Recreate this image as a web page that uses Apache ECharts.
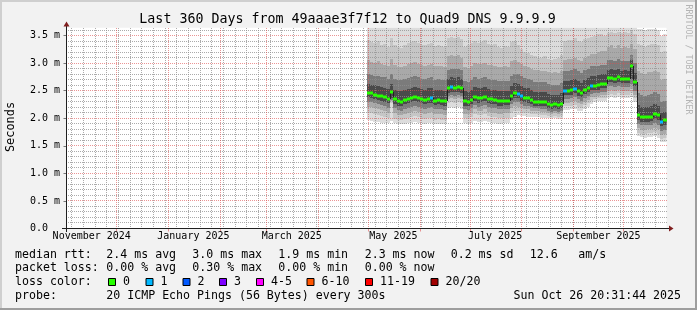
<!DOCTYPE html>
<html><head><meta charset="utf-8">
<script src="https://cdn.jsdelivr.net/npm/echarts@6/dist/echarts.min.js"></script>
<style>html,body{margin:0;padding:0;background:#f2f2f2}#c{width:697px;height:310px}</style>
</head><body><div id="c"></div>
<script>
// ---------- data ----------
const DAY = 86400000;
const startTime = Date.UTC(2024, 9, 31, 20, 31, 44);
const endTime = Date.UTC(2025, 9, 26, 20, 31, 44);
const firstStep = Date.UTC(2025, 3, 30);
const stepDays = 2;

const median = [2.46,2.45,2.43,2.41,2.40,2.38,2.35,2.47,2.34,2.31,
2.30,2.33,2.35,2.37,2.39,2.37,2.35,2.33,2.35,2.36,
2.32,2.33,2.32,2.31,2.54,2.56,2.55,2.56,2.54,2.31,
2.30,2.33,2.39,2.36,2.37,2.39,2.35,2.34,2.33,2.31,
2.31,2.32,2.32,2.41,2.45,2.44,2.40,2.37,2.36,2.33,
2.30,2.30,2.29,2.29,2.26,2.24,2.25,2.24,2.26,2.50,
2.50,2.51,2.53,2.49,2.45,2.52,2.55,2.59,2.59,2.60,
2.62,2.62,2.73,2.73,2.72,2.74,2.71,2.72,2.71,2.95,
2.66,2.05,2.02,2.02,2.02,2.03,2.08,2.05,1.93,1.96];

const loss = [0,0,0,0,0,0,0,0,0,0, 0,0,0,0,0,0,0,0,0,1, 0,0,0,0,0,1,0,0,0,0,
0,0,0,0,0,0,0,0,0,0, 0,0,0,0,0,1,1,0,0,0, 0,0,0,0,0,0,0,0,0,1,
0,0,1,0,0,0,0,1,0,0, 0,0,0,0,0,0,0,0,0,0, 0,0,0,0,0,0,0,0,1,0];

const hi1 = [3.70,3.70,3.70,3.70,3.70,3.70,3.70,3.70,3.70,3.70,3.70,3.70,3.70,3.70,3.70,3.70,3.70,3.70,3.70,3.70,3.70,3.70,3.70,3.70,
3.70,3.70,3.70,3.70,3.70,
3.70,3.70,3.70,3.70,3.70,3.70,3.70,3.70,3.70,3.70,3.70,3.70,3.70,3.70,3.70,3.70,3.70,3.70,3.70,3.70,3.70,3.70,3.70,3.70,3.70,3.70,3.70,3.70,3.70,3.70,
3.70,3.70,3.70,3.70,3.70,3.70,3.70,3.70,3.70,3.70,3.70,3.70,3.70,
3.70,3.70,3.70,3.70,3.70,3.70,3.70,3.70,3.70,
3.62,3.62,3.60,3.62,3.62,3.62,3.60,3.50,3.52];
const hi2 = [3.42,3.38,3.36,3.40,3.33,3.35,3.30,3.45,3.33,3.30,3.28,3.32,3.36,3.38,3.40,3.36,3.33,3.32,3.35,3.37,3.31,3.33,3.31,3.30,
3.45,3.48,3.46,3.47,3.44,
3.30,3.32,3.36,3.40,3.36,3.38,3.42,3.35,3.33,3.34,3.30,3.28,3.31,3.30,3.38,3.40,3.32,3.25,3.20,3.18,3.15,3.12,3.10,3.10,3.12,3.08,3.06,3.08,3.10,3.15,
3.40,3.42,3.42,3.45,3.40,3.38,3.44,3.46,3.48,3.50,3.52,3.52,3.50,
3.55,3.56,3.54,3.57,3.55,3.56,3.54,3.58,3.52,
3.35,3.32,3.30,3.33,3.34,3.35,3.32,3.20,3.22];
const hi3 = [3.05,3.02,3.00,3.03,2.98,2.97,2.95,3.08,2.96,2.93,2.92,2.95,2.98,3.00,3.02,2.99,2.96,2.95,2.97,2.99,2.94,2.95,2.94,2.93,
3.12,3.15,3.13,3.14,3.10,
2.92,2.91,2.95,3.01,2.98,2.99,3.01,2.97,2.96,2.95,2.93,2.92,2.94,2.93,3.03,3.05,3.02,2.98,2.95,2.93,2.90,2.88,2.87,2.86,2.86,2.84,2.82,2.83,2.82,2.86,
3.05,3.07,3.08,3.10,3.06,3.04,3.10,3.12,3.16,3.17,3.20,3.22,3.22,
3.30,3.32,3.28,3.33,3.28,3.30,3.28,3.35,3.25,
2.85,2.82,2.80,2.83,2.84,2.86,2.84,2.70,2.72];
const hi4 = [2.80,2.78,2.77,2.76,2.75,2.74,2.72,2.80,2.72,2.70,2.69,2.71,2.73,2.74,2.76,2.74,2.72,2.71,2.73,2.74,2.70,2.71,2.70,2.70,
2.88,2.90,2.89,2.90,2.88,
2.67,2.66,2.69,2.75,2.72,2.73,2.75,2.71,2.70,2.69,2.67,2.67,2.68,2.68,2.77,2.81,2.80,2.76,2.73,2.72,2.69,2.66,2.66,2.65,2.65,2.62,2.60,2.61,2.60,2.63,
2.85,2.86,2.87,2.89,2.85,2.82,2.88,2.90,2.94,2.94,2.95,2.97,2.97,
3.05,3.06,3.04,3.07,3.03,3.04,3.03,3.15,3.00,
2.45,2.42,2.41,2.43,2.44,2.47,2.44,2.30,2.32];
const hi5 = [2.62,2.60,2.60,2.58,2.57,2.55,2.53,2.62,2.52,2.50,2.49,2.52,2.53,2.55,2.57,2.55,2.53,2.52,2.54,2.55,2.51,2.52,2.51,2.50,
2.72,2.74,2.73,2.74,2.72,
2.49,2.48,2.51,2.57,2.54,2.55,2.57,2.53,2.52,2.51,2.49,2.49,2.50,2.50,2.59,2.63,2.62,2.58,2.55,2.54,2.51,2.48,2.48,2.47,2.47,2.44,2.42,2.43,2.42,2.45,
2.68,2.68,2.69,2.71,2.67,2.64,2.70,2.73,2.77,2.77,2.78,2.80,2.80,
2.88,2.89,2.87,2.89,2.86,2.87,2.86,3.05,2.82,
2.24,2.21,2.20,2.21,2.22,2.26,2.23,2.10,2.12];
const lo5 = [2.38,2.37,2.35,2.33,2.32,2.30,2.27,2.36,2.26,2.23,2.22,2.25,2.27,2.29,2.31,2.29,2.27,2.25,2.27,2.28,2.24,2.25,2.24,2.23,
2.46,2.48,2.47,2.48,2.46,
2.23,2.22,2.25,2.31,2.28,2.29,2.31,2.27,2.26,2.25,2.23,2.23,2.24,2.24,2.33,2.37,2.36,2.32,2.29,2.28,2.26,2.23,2.23,2.22,2.22,2.19,2.17,2.18,2.17,2.19,
2.42,2.42,2.43,2.45,2.41,2.38,2.44,2.47,2.51,2.51,2.52,2.54,2.54,
2.65,2.65,2.64,2.66,2.63,2.64,2.63,2.72,2.58,
1.97,1.94,1.94,1.94,1.95,1.99,1.96,1.85,1.87];
const lo4 = [2.30,2.29,2.27,2.25,2.24,2.22,2.19,2.33,2.18,2.15,2.14,2.17,2.19,2.21,2.23,2.21,2.19,2.17,2.19,2.20,2.16,2.17,2.16,2.15,
2.40,2.42,2.41,2.42,2.40,
2.16,2.15,2.18,2.24,2.21,2.22,2.24,2.20,2.19,2.18,2.16,2.16,2.17,2.17,2.26,2.30,2.29,2.26,2.23,2.22,2.20,2.18,2.18,2.17,2.17,2.14,2.12,2.13,2.12,2.14,
2.35,2.35,2.36,2.38,2.34,2.31,2.37,2.40,2.44,2.45,2.46,2.48,2.48,
2.58,2.58,2.57,2.59,2.56,2.57,2.56,2.62,2.50,
1.90,1.87,1.87,1.87,1.88,1.91,1.88,1.77,1.79];
const lo3 = [2.21,2.20,2.18,2.16,2.15,2.13,2.10,2.31,2.09,2.06,2.05,2.08,2.10,2.12,2.14,2.12,2.10,2.08,2.10,2.11,2.07,2.08,2.07,2.06,
2.34,2.36,2.35,2.36,2.34,
2.08,2.07,2.10,2.16,2.13,2.14,2.16,2.12,2.11,2.10,2.08,2.08,2.09,2.09,2.18,2.22,2.21,2.19,2.17,2.16,2.14,2.13,2.13,2.12,2.12,2.09,2.08,2.09,2.08,2.09,
2.28,2.28,2.29,2.31,2.27,2.25,2.30,2.33,2.38,2.39,2.41,2.42,2.42,
2.50,2.51,2.50,2.52,2.49,2.50,2.49,2.53,2.43,
1.82,1.79,1.79,1.80,1.80,1.83,1.80,1.69,1.71];
const lo2 = [2.10,2.09,2.07,2.05,2.04,2.02,2.00,2.28,1.99,1.97,1.96,1.98,2.00,2.02,2.04,2.02,2.00,1.98,2.00,2.01,1.97,1.98,1.97,1.96,
2.27,2.29,2.28,2.29,2.27,
2.00,1.99,2.02,2.07,2.05,2.06,2.07,2.04,2.03,2.02,2.00,2.00,2.01,2.01,2.10,2.13,2.13,2.11,2.10,2.09,2.08,2.07,2.07,2.06,2.06,2.04,2.03,2.04,2.03,2.04,
2.22,2.22,2.23,2.24,2.21,2.19,2.24,2.27,2.32,2.34,2.36,2.37,2.37,
2.43,2.44,2.43,2.45,2.42,2.43,2.42,2.45,2.37,
1.74,1.72,1.72,1.73,1.73,1.75,1.72,1.62,1.64];
const lo1 = [1.96,1.95,1.94,1.93,1.92,1.92,1.91,1.95,1.91,1.90,1.89,1.90,1.91,1.92,1.93,1.92,1.91,1.90,1.91,1.92,1.90,1.90,1.89,1.89,
2.18,2.20,2.19,2.20,2.17,
1.91,1.90,1.92,1.95,1.93,1.94,1.95,1.93,1.92,1.91,1.90,1.90,1.91,1.92,1.98,2.02,2.05,2.04,2.04,2.03,2.03,2.02,2.02,2.01,2.01,2.00,1.99,2.00,1.99,2.00,
2.15,2.15,2.16,2.17,2.14,2.13,2.17,2.20,2.26,2.29,2.31,2.32,2.32,
2.37,2.38,2.37,2.38,2.36,2.37,2.36,2.38,2.30,
1.67,1.66,1.65,1.66,1.66,1.67,1.64,1.56,1.57];

const monthLabelTimes = [Date.UTC(2024,10,16), Date.UTC(2025,0,16), Date.UTC(2025,2,16), Date.UTC(2025,4,16), Date.UTC(2025,6,16), Date.UTC(2025,8,16)];
const monthLabelTexts = ['November 2024','January 2025','March 2025','May 2025','July 2025','September 2025'];
const monthStarts = [Date.UTC(2024,11,1),Date.UTC(2025,0,1),Date.UTC(2025,1,1),Date.UTC(2025,2,1),Date.UTC(2025,3,1),Date.UTC(2025,4,1),Date.UTC(2025,5,1),Date.UTC(2025,6,1),Date.UTC(2025,7,1),Date.UTC(2025,8,1),Date.UTC(2025,9,1)];
const yMax = 3.64;

const lossColors = ['#26ff00','#00b8ff','#0059ff','#7e00ff','#ff00ff','#ff5500','#ff0000','#a10000'];
const lossLabels = ['0','1','2','3','4-5','6-10','11-19','20/20'];
const smokeColors = ['#dcdcdc','#c6c6c6','#a9a9a9','#7b7b7b','#4a4a4a'];

// ---------- derived ----------
const weekStarts = [];
for (let t = Date.UTC(2024,10,4); t < endTime; t += 7*DAY) weekStarts.push(t);
// grid rows: [time, value, isMajor, isHorizontal]
const gridRows = [];
for (let k = 1; k <= 36; k++) if (k % 5) gridRows.push([startTime, k/10, 0, 1]);
weekStarts.forEach(t => gridRows.push([t, 0, 0, 0]));
for (let k = 1; k <= 7; k++) gridRows.push([startTime, k/2, 1, 1]);
monthStarts.forEach(t => gridRows.push([t, 0, 1, 0]));

const stepT = i => firstStep + i*stepDays*DAY;
const los = [lo1,lo2,lo3,lo4,lo5], his = [hi1,hi2,hi3,hi4,hi5];
const smokeData = median.map((m,i) => {
  const row = [stepT(i), Math.min(stepT(i+1), endTime)];
  for (let k=0;k<5;k++){ row.push(los[k][i], his[k][i]); }
  return row;
});
const medData = median.map((m,i) => [stepT(i), Math.min(stepT(i+1), endTime), m, loss[i], i>0 ? median[i-1] : m]);
function lossIdx(l){ if(l<=3) return l; if(l<=5) return 4; if(l<=10) return 5; if(l<=19) return 6; return 7; }

const MONO = '"DejaVu Sans Mono", monospace';
const GRID = 'rgba(143,143,143,0.75)';
const MGRID = 'rgba(222,79,79,0.6)';

const chart = echarts.init(document.getElementById('c'), null, {renderer:'canvas', width:697, height:310});

const legendRows = [
  {y:254.5, items:[[15,'median rtt:'],[106.3,'2.4 ms avg'],[192.3,'3.0 ms max'],[278.3,'1.9 ms min'],[364.7,'2.3 ms now'],[450.7,'0.2 ms sd'],[529.7,'12.6'],[578.3,'am/s']]},
  {y:268.3, items:[[15,'packet loss:'],[106.3,'0.00 % avg'],[192.3,'0.30 % max'],[278.3,'0.00 % min'],[364.7,'0.00 % now']]},
  {y:282, items:[[15,'loss color:']]},
  {y:295.8, items:[[15,'probe:'],[106.3,'20 ICMP Echo Pings (56 Bytes) every 300s']]}
];
const boxX = [108, 145.5, 182.5, 219, 256, 306.5, 365, 430.5];

const graphics = [];
graphics.push({type:'rect', shape:{x:0,y:0,width:697,height:2}, style:{fill:'#cfcfcf'}, silent:true});
graphics.push({type:'rect', shape:{x:0,y:0,width:2,height:310}, style:{fill:'#cfcfcf'}, silent:true});
graphics.push({type:'rect', shape:{x:0,y:308,width:697,height:2}, style:{fill:'#9e9e9e'}, silent:true});
graphics.push({type:'rect', shape:{x:695,y:0,width:2,height:310}, style:{fill:'#9e9e9e'}, silent:true});
graphics.push({type:'text', x:347.5, y:19.5, silent:true, style:{text:'Last 360 Days from 49aaae3f7f12 to Quad9 DNS 9.9.9.9', fill:'#000', font:'13.3px '+MONO, align:'center', verticalAlign:'middle'}});
graphics.push({type:'text', x:688.3, y:59.5, rotation:-Math.PI/2, silent:true, style:{text:'RRDTOOL / TOBI OETIKER', fill:'#b4b4b4', font:'8.3px '+MONO, align:'center', verticalAlign:'middle'}});
graphics.push({type:'text', x:11.2, y:127, rotation:Math.PI/2, silent:true, style:{text:'Seconds', fill:'#000', font:'11.9px '+MONO, align:'center', verticalAlign:'middle'}});
graphics.push({type:'line', shape:{x1:62,y1:228.5,x2:670,y2:228.5}, style:{stroke:'#1f1f1f', lineWidth:1}, silent:true, z:10});
graphics.push({type:'line', shape:{x1:66.5,y1:232,x2:66.5,y2:25}, style:{stroke:'#1f1f1f', lineWidth:1}, silent:true, z:10});
graphics.push({type:'polygon', shape:{points:[[673.5,228.5],[669,225.5],[669,231.5]]}, style:{fill:'#801f1f'}, silent:true, z:10});
graphics.push({type:'polygon', shape:{points:[[66.5,21.5],[63.5,26.5],[69.5,26.5]]}, style:{fill:'#801f1f'}, silent:true, z:10});
legendRows.forEach(r => r.items.forEach(([x,t]) => graphics.push({type:'text', x, y:r.y, silent:true, style:{text:t, fill:'#000', font:'11.6px '+MONO, align:'left', verticalAlign:'middle'}})));
boxX.forEach((x,k) => {
  graphics.push({type:'rect', shape:{x:x+0.5,y:278.5,width:7,height:7}, style:{fill:lossColors[k], stroke:'#000', lineWidth:1}, silent:true});
  graphics.push({type:'text', x:x+15, y:282, silent:true, style:{text:lossLabels[k], fill:'#000', font:'11.6px '+MONO, align:'left', verticalAlign:'middle'}});
});
graphics.push({type:'text', x:681, y:295.8, silent:true, style:{text:'Sun Oct 26 20:31:44 2025', fill:'#000', font:'11.6px '+MONO, align:'right', verticalAlign:'middle'}});

const option = {
  animation: false,
  backgroundColor: '#f2f2f2',
  grid: {left:66.5, right:30.5, top:27.8, bottom:81.5, show:true, backgroundColor:'#ffffff', borderWidth:0},
  xAxis: [{
    type:'value', min:startTime, max:endTime,
    axisLine:{show:false},
    axisTick:{show:true, customValues: monthStarts, length:3, lineStyle:{color:MGRID}},
    axisLabel:{show:true, customValues: monthLabelTimes, margin:3, color:'#000', fontSize:10, fontFamily:MONO,
      formatter: v => { const k = monthLabelTimes.indexOf(v); return k>=0 ? monthLabelTexts[k] : ''; }},
    splitLine:{show:false}
  }],
  yAxis: [{
    type:'value', min:0, max:yMax, interval:0.5,
    axisLine:{show:false},
    axisTick:{show:true, length:3, lineStyle:{color:'#777'}},
    axisLabel:{showMaxLabel:false, align:'left', margin:36.5, color:'#000', fontSize:10, fontFamily:MONO,
      formatter: v => v===0 ? '0.0' : v.toFixed(1)+' m'},
    splitLine:{show:false}
  }],
  graphic: graphics,
  series: [
    {
      type:'custom', name:'smoke', z:2, silent:true,
      data: smokeData,
      encode:{x:[0,1], y:[2,3,4,5,6,7,8,9,10,11]},
      renderItem: (params, api) => {
        const cs = params.coordSys;
        const t0 = api.value(0), t1 = api.value(1);
        const children = [];
        for (let k=0;k<5;k++){
          const lo = api.value(2+2*k), hi = api.value(3+2*k);
          const p0 = api.coord([t0, hi]), p1 = api.coord([t1, lo]);
          const x0 = Math.round(p0[0]), x1 = Math.round(p1[0]);
          const y0 = Math.round(p0[1]), y1 = Math.round(p1[1]);
          const shape = echarts.graphic.clipRectByRect({x:x0,y:y0,width:x1-x0,height:y1-y0},{x:cs.x,y:cs.y,width:cs.width,height:cs.height});
          if (shape) children.push({type:'rect', shape, style:{fill:smokeColors[k]}});
        }
        return {type:'group', children};
      }
    },
    {
      type:'custom', name:'grid', z:3, silent:true,
      data: gridRows,
      encode:{x:0, y:1},
      renderItem: (params, api) => {
        const cs = params.coordSys;
        const p = api.coord([api.value(0), api.value(1)]);
        const style = {stroke: api.value(2) ? MGRID : GRID, lineWidth:1, lineDash:[1,1]};
        if (api.value(3)) {
          const y = Math.floor(p[1]) + 0.5;
          return {type:'line', shape:{x1:Math.round(cs.x)+1, y1:y, x2:Math.round(cs.x+cs.width)+1, y2:y}, style};
        }
        const x = Math.floor(p[0]) + 0.5;
        return {type:'line', shape:{x1:x, y1:Math.round(cs.y), x2:x, y2:Math.round(cs.y+cs.height)}, style};
      }
    },
    {
      type:'custom', name:'median', z:5, silent:true,
      data: medData,
      encode:{x:[0,1], y:[2]},
      renderItem: (params, api) => {
        const cs = params.coordSys;
        const t0 = api.value(0), t1 = api.value(1), m = api.value(2), l = api.value(3), prev = api.value(4);
        const p0 = api.coord([t0, m]), p1 = api.coord([t1, m]), pp = api.coord([t0, prev]);
        const x0 = Math.round(p0[0]), x1 = Math.min(Math.round(p1[0]), Math.round(cs.x+cs.width));
        const y = Math.round(p0[1]);
        const children = [];
        if (Math.abs(pp[1]-p0[1]) > 1) children.push({type:'line', shape:{x1:x0+0.5,y1:Math.round(pp[1]),x2:x0+0.5,y2:y}, style:{stroke:'#202020', lineWidth:1}});
        children.push({type:'rect', shape:{x:x0, y:y-1.5, width:x1-x0, height:3}, style:{fill:lossColors[lossIdx(l)]}});
        return {type:'group', children};
      }
    }
  ]
};
chart.setOption(option);
</script>
</body></html>
